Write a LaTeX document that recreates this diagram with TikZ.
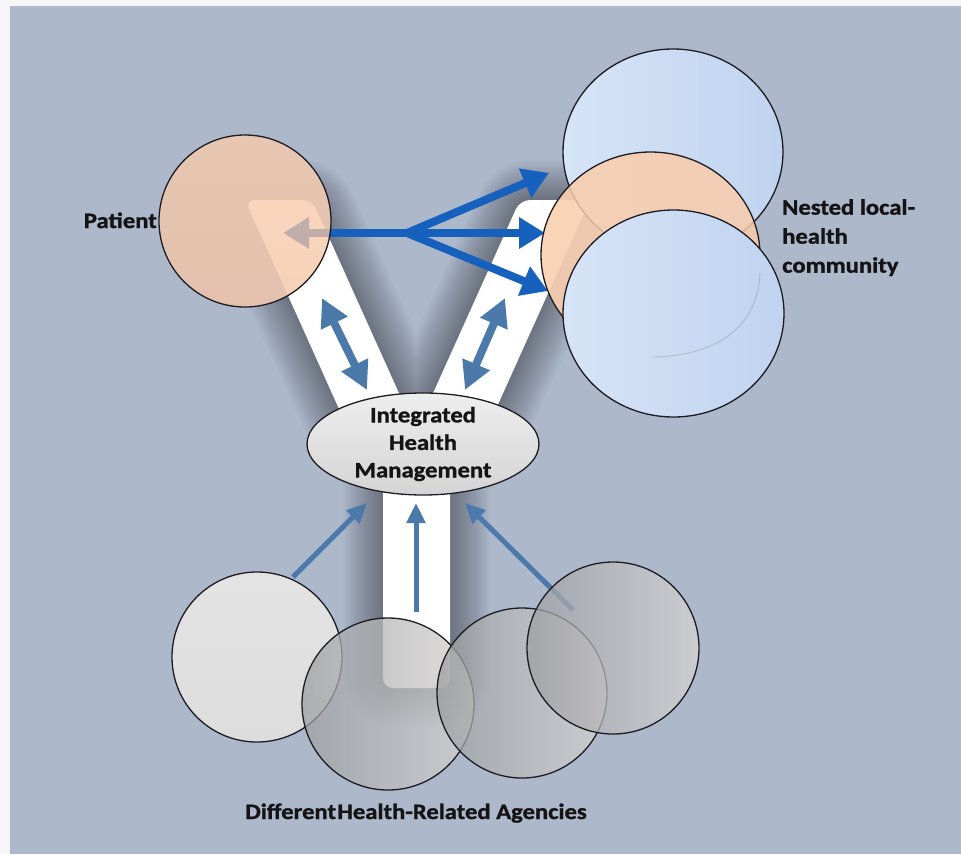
\documentclass[tikz,border=0pt]{standalone}
\usepackage{fontspec}
\newfontfamily\labelfont[FakeStretch=1.12, BoldFeatures={FakeBold=1.3}]{Carlito}
\usetikzlibrary{arrows.meta,shapes.geometric}

\definecolor{marginwhite}{RGB}{246,246,248}
\definecolor{panel}{RGB}{173,184,203}
\definecolor{deepblue}{RGB}{22,96,190}
\definecolor{steel}{RGB}{74,121,170}
\definecolor{peach}{RGB}{250,204,170}
\definecolor{peachB}{RGB}{244,196,164}
\definecolor{skyA}{RGB}{214,228,247}
\definecolor{skyB}{RGB}{192,211,239}
\definecolor{greyA}{RGB}{158,159,162}
\definecolor{greyB}{RGB}{214,212,210}
\definecolor{pale}{RGB}{224,224,224}
\definecolor{outline}{RGB}{28,28,34}
\definecolor{ovalA}{RGB}{238,238,238}
\definecolor{ovalB}{RGB}{212,212,212}

% outline of the white Y-shaped channel
\newcommand\ychannel{(357.5,450) -- (245,200) -- (312,200) -- (416,431) -- (520,200)
  -- (590,200) -- (477.5,450) -- (450,450) -- (450,688) -- (383,688) -- (383,450) -- cycle}

\begin{document}
\begin{tikzpicture}[x=1pt,y=-1pt,
  ring/.style={circle, inner sep=0pt, draw=outline, line width=1.3pt},
  oval/.style={ellipse, inner sep=0pt, draw=outline, line width=1.3pt},
  forkarrow/.style={draw=deepblue, line width=8pt, -{Triangle[length=26pt,width=30pt]}},
  twoway/.style={draw=steel, line width=8pt,
    {Triangle[length=28pt,width=28pt]}-{Triangle[length=28pt,width=28pt]}},
  feed/.style={draw=steel, line width=5pt, -{Triangle[length=20pt,width=18pt]}},
  lbl/.style={font=\labelfont\bfseries\fontsize{22}{27.5}\selectfont, text=black!92, inner sep=0pt}]

\useasboundingbox (0,0) rectangle (961,854);
\fill[marginwhite] (0,0) rectangle (961,854);
\fill[panel] (10,6) rectangle (961,854);

% soft shadow around the channel
\foreach \w in {4,8,...,80}
  \draw[black, draw opacity=0.019, line width=\w pt, line join=round, rounded corners=10pt] \ychannel;
% no shadow inside the two round shapes that cover the arm tops
\fill[panel] (245,221) circle[radius=86pt];
\fill[panel] (650.5,255) ellipse[x radius=109.5pt, y radius=103pt];
% the channel itself
\fill[white, rounded corners=10pt] \ychannel;

% arrows from the patient towards the local community
\coordinate (hub) at (407,233);
\coordinate (toUpper) at (549,173);
\coordinate (toMiddle) at (545,233);
\coordinate (toLower) at (548,291);
\coordinate (toPatient) at (283,233);
\draw[forkarrow] (hub) -- (toPatient);
\draw[forkarrow] (hub) -- (toUpper);
\draw[forkarrow] (hub) -- (toMiddle);
\draw[forkarrow] (hub) -- (toLower);

% patient
\node[ring, minimum size=172pt, top color=peach, bottom color=peachB, fill opacity=0.76] (patient) at (245,221) {};

% nested local-health community
\node[oval, minimum width=220pt, minimum height=206pt, left color=skyA, right color=skyB] (commTop) at (673,152) {};
\node[oval, minimum width=219pt, minimum height=206pt, fill=peach, fill opacity=0.84] (commMid) at (650.5,255) {};
\node[oval, minimum width=221pt, minimum height=207pt, left color=skyA, right color=skyB] (commLow) at (673.5,313.5) {};
\draw[black!50, line width=0.9pt, opacity=0.35] (760,273) .. controls (758,330) and (712,357) .. (650,357);

% two-way exchange along the arms
\coordinate (leftArmTop) at (322,298);
\coordinate (leftArmLow) at (367,390);
\coordinate (rightArmTop) at (505,298);
\coordinate (rightArmLow) at (465,390);
\draw[twoway] (leftArmTop) -- (leftArmLow);
\draw[twoway] (rightArmTop) -- (rightArmLow);

% integrated health management
\node[oval, minimum width=232pt, minimum height=102pt, top color=ovalA, bottom color=ovalB] (ihm) at (423,444) {};
\node[lbl, align=center] (ihmText) at (ihm.center) {Integrated\\Health\\Management};

% agencies feeding in
\coordinate (feedLeftA) at (293,577);
\coordinate (feedLeftB) at (367,503);
\coordinate (feedMidA) at (416,612);
\coordinate (feedMidB) at (416,503);
\coordinate (feedRightA) at (573,610);
\coordinate (feedRightB) at (465,503);
\draw[feed] (feedLeftA) -- (feedLeftB);
\draw[feed] (feedMidA) -- (feedMidB);
\draw[feed] (feedRightA) -- (feedRightB);

\node[ring, minimum size=170pt, top color=pale!80!white, bottom color=pale, fill opacity=0.95] (agencyA) at (257,657) {};
\node[ring, minimum size=172pt, left color=greyA, right color=greyB, fill opacity=0.75] (agencyB) at (388,704) {};
\node[ring, minimum size=170pt, left color=greyA, right color=greyB, fill opacity=0.75] (agencyC) at (522,693) {};
\node[ring, minimum size=172pt, left color=greyA, right color=greyB, fill opacity=0.75] (agencyD) at (613,648) {};

% labels
\node[lbl, anchor=base east] (patientLabel) at (157,228) {Patient};
\node[lbl, align=left, anchor=north west, font=\labelfont\bfseries\fontsize{22}{29}\selectfont] (commLabel) at (782,199) {Nested local-\\health\\community};
\node[lbl, anchor=base] (agencyLabel) at (416,819) {Different\hspace{0.06em}Health-Related Agencies};
\end{tikzpicture}
\end{document}
